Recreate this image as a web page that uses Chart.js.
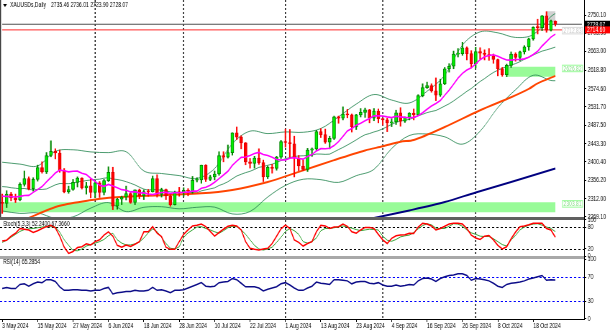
<!DOCTYPE html>
<html>
<head>
<meta charset="utf-8">
<script src="https://cdn.jsdelivr.net/npm/chart.js@4.4.1/dist/chart.umd.min.js"></script>
<style>
  html, body { margin: 0; padding: 0; background: #fff; overflow: hidden; }
  #myChart { display: block; }
</style>
</head>
<body>
<canvas id="myChart" width="848" height="332" style="width:610px;height:332px"></canvas>
<script>
// XAUUSDs daily, 3 May - 25 Oct 2024
const dates = [
  "2024.05.03","2024.05.06","2024.05.07","2024.05.08","2024.05.09","2024.05.10","2024.05.13","2024.05.14","2024.05.15","2024.05.16",
  "2024.05.17","2024.05.20","2024.05.21","2024.05.22","2024.05.23","2024.05.24","2024.05.27","2024.05.28","2024.05.29","2024.05.30",
  "2024.05.31","2024.06.03","2024.06.04","2024.06.05","2024.06.06","2024.06.07","2024.06.10","2024.06.11","2024.06.12","2024.06.13",
  "2024.06.14","2024.06.17","2024.06.18","2024.06.19","2024.06.20","2024.06.21","2024.06.24","2024.06.25","2024.06.26","2024.06.27",
  "2024.06.28","2024.07.01","2024.07.02","2024.07.03","2024.07.04","2024.07.05","2024.07.08","2024.07.09","2024.07.10","2024.07.11",
  "2024.07.12","2024.07.15","2024.07.16","2024.07.17","2024.07.18","2024.07.19","2024.07.22","2024.07.23","2024.07.24","2024.07.25",
  "2024.07.26","2024.07.29","2024.07.30","2024.07.31","2024.08.01","2024.08.02","2024.08.05","2024.08.06","2024.08.07","2024.08.08",
  "2024.08.09","2024.08.12","2024.08.13","2024.08.14","2024.08.15","2024.08.16","2024.08.19","2024.08.20","2024.08.21","2024.08.22",
  "2024.08.23","2024.08.26","2024.08.27","2024.08.28","2024.08.29","2024.08.30","2024.09.02","2024.09.03","2024.09.04","2024.09.05",
  "2024.09.06","2024.09.09","2024.09.10","2024.09.11","2024.09.12","2024.09.13","2024.09.16","2024.09.17","2024.09.18","2024.09.19",
  "2024.09.20","2024.09.23","2024.09.24","2024.09.25","2024.09.26","2024.09.27","2024.09.30","2024.10.01","2024.10.02","2024.10.03",
  "2024.10.04","2024.10.07","2024.10.08","2024.10.09","2024.10.10","2024.10.11","2024.10.14","2024.10.15","2024.10.16","2024.10.17",
  "2024.10.18","2024.10.21","2024.10.22","2024.10.23","2024.10.24","2024.10.25"
];
// empty bars on the right (chart shift)
const futureSlots = ["2024.10.28","2024.10.29","2024.10.30","2024.10.31","2024.11.01","2024.11.04"];
const tickLabels = ["3 May 2024","15 May 2024","27 May 2024","6 Jun 2024","18 Jun 2024","28 Jun 2024","10 Jul 2024","22 Jul 2024",
  "1 Aug 2024","13 Aug 2024","23 Aug 2024","4 Sep 2024","16 Sep 2024","26 Sep 2024","8 Oct 2024","18 Oct 2024"];
const tickEvery = 8;
const monthStarts = ["2024.06.03","2024.07.01","2024.08.01","2024.09.02","2024.10.01"];

const opens = [
  2303,2301,2323,2314,2309,2346,2360,2336,2358,2386,
  2376,2415,2425,2421,2379,2329,2334,2351,2361,2338,
  2343,2327,2350,2327,2355,2375,2294,2311,2316,2324,
  2303,2333,2319,2329,2328,2360,2322,2334,2319,2298,
  2327,2326,2332,2330,2356,2357,2392,2358,2364,2371,
  2415,2411,2422,2469,2459,2445,2400,2396,2409,2398,
  2364,2387,2384,2411,2448,2446,2443,2409,2390,2382,
  2428,2431,2472,2465,2447,2456,2507,2504,2514,2512,
  2484,2512,2518,2524,2504,2521,2503,2500,2493,2495,
  2517,2497,2506,2516,2512,2558,2577,2582,2569,2559,
  2586,2622,2628,2657,2658,2672,2658,2634,2663,2659,
  2656,2653,2644,2622,2608,2630,2657,2649,2662,2674,
  2693,2721,2720,2748,2714,2735.46
];
const highs = [
  2323,2331,2327,2323,2350,2378,2364,2362,2392,2400,
  2422,2450,2431,2428,2384,2342,2358,2364,2362,2351,
  2359,2354,2353,2358,2388,2387,2313,2318,2342,2327,
  2333,2335,2333,2334,2366,2369,2337,2335,2322,2330,
  2339,2338,2336,2365,2362,2392,2393,2368,2378,2424,
  2424,2440,2469,2483,2462,2446,2408,2413,2431,2404,
  2390,2394,2413,2451,2478,2477,2461,2415,2405,2432,
  2433,2475,2479,2478,2461,2509,2509,2531,2525,2514,
  2513,2527,2528,2525,2527,2526,2504,2504,2503,2523,
  2529,2507,2517,2526,2560,2586,2590,2586,2600,2597,
  2625,2634,2664,2670,2685,2674,2665,2673,2672,2667,
  2670,2657,2645,2625,2633,2662,2660,2664,2677,2695,
  2722,2740,2749,2758,2738,2736.01
];
const lows = [
  2277,2291,2307,2303,2307,2342,2333,2330,2354,2373,
  2372,2412,2407,2375,2326,2325,2332,2340,2335,2323,
  2314,2315,2315,2321,2353,2286,2287,2298,2309,2301,
  2298,2312,2310,2318,2328,2316,2316,2310,2294,2297,
  2318,2318,2319,2325,2352,2349,2353,2355,2357,2368,
  2400,2409,2416,2453,2431,2393,2385,2385,2394,2353,
  2360,2373,2380,2408,2435,2410,2364,2379,2379,2377,
  2413,2427,2458,2444,2431,2453,2492,2500,2505,2471,
  2477,2507,2506,2493,2498,2493,2488,2472,2484,2489,
  2485,2494,2500,2500,2510,2555,2575,2566,2546,2556,
  2584,2614,2622,2650,2654,2643,2624,2624,2645,2643,
  2642,2635,2605,2604,2603,2625,2640,2641,2657,2666,
  2690,2705,2713,2709,2712,2723.90
];
const closes = [
  2301,2323,2314,2309,2346,2360,2336,2358,2386,2376,
  2415,2425,2421,2379,2329,2334,2351,2361,2338,2343,
  2327,2350,2327,2355,2375,2294,2311,2316,2324,2303,
  2333,2319,2329,2328,2360,2322,2334,2319,2298,2327,
  2326,2332,2330,2356,2357,2392,2358,2364,2371,2415,
  2411,2422,2469,2459,2445,2400,2396,2409,2398,2364,
  2387,2384,2411,2448,2446,2443,2409,2390,2382,2428,
  2431,2472,2465,2447,2456,2507,2504,2514,2512,2484,
  2512,2518,2524,2504,2521,2503,2500,2493,2495,2517,
  2497,2506,2516,2512,2558,2577,2582,2569,2559,2586,
  2622,2628,2657,2658,2672,2658,2634,2663,2659,2656,
  2653,2644,2622,2608,2630,2657,2649,2662,2674,2693,
  2721,2720,2748,2714,2736,2728.07
];

// magenta average, read per bar
const maFast = [
  2318.0,2317.6,2316.8,2316.1,2317.5,2319.8,2319.9,2327.1,2333.7,2340.9,
  2352.3,2362.5,2373.2,2380.2,2378.5,2375.9,2377.4,2377.7,2372.9,2369.6,
  2360.8,2353.3,2343.9,2341.5,2346.1,2342.1,2338.1,2333.6,2332.2,2328.2,
  2328.8,2325.7,2325.9,2323.2,2321.7,2324.5,2326.8,2327.1,2324.5,2326.9,
  2326.2,2327.5,2327.6,2330.4,2330.0,2337.0,2339.4,2343.9,2351.2,2360.0,
  2368.5,2377.5,2391.4,2401.7,2410.6,2411.4,2415.2,2419.7,2422.4,2417.3,
  2414.9,2411.1,2405.3,2404.2,2404.3,2408.6,2409.9,2408.0,2406.4,2412.8,
  2417.2,2426.0,2431.4,2431.3,2432.3,2438.7,2448.2,2460.6,2473.6,2479.2,
  2487.3,2491.9,2497.8,2503.5,2510.0,2509.6,2509.2,2507.1,2505.4,2508.7,
  2507.2,2506.0,2505.2,2506.0,2509.7,2517.1,2525.3,2532.9,2539.3,2546.2,
  2558.7,2570.9,2585.0,2599.5,2610.9,2619.0,2624.2,2633.6,2643.6,2650.6,
  2653.7,2655.3,2651.8,2646.9,2642.7,2642.6,2644.1,2644.0,2645.5,2649.2,
  2656.0,2663.6,2676.2,2686.8,2697.4,2704.5
];
// bollinger middle, per bar
const bbMid = [
  2340.9,2340.1,2338.2,2337.0,2335.7,2336.5,2334.2,2332.9,2334.2,2334.0,
  2335.2,2340.1,2345.0,2348.2,2348.0,2347.9,2348.7,2352.4,2353.3,2355.3,
  2356.6,2357.9,2358.6,2360.9,2362.3,2359.0,2357.8,2355.7,2352.6,2348.9,
  2344.8,2339.5,2334.9,2332.4,2333.9,2333.3,2332.5,2330.4,2328.4,2327.6,
  2327.5,2326.6,2326.8,2326.8,2325.9,2330.8,2333.1,2335.5,2337.9,2343.5,
  2347.4,2352.5,2359.5,2366.1,2370.3,2374.2,2377.3,2381.8,2386.8,2388.7,
  2391.7,2394.3,2398.4,2403.0,2407.5,2410.0,2412.6,2413.9,2414.4,2415.1,
  2416.1,2418.6,2418.4,2417.8,2418.3,2423.7,2429.1,2434.3,2440.0,2446.0,
  2452.3,2459.0,2464.6,2467.4,2471.2,2474.2,2478.7,2483.9,2489.5,2494.0,
  2497.3,2499.0,2501.5,2504.8,2509.9,2513.4,2517.3,2520.0,2522.4,2527.5,
  2533.0,2538.5,2545.1,2552.8,2560.3,2568.1,2574.8,2583.3,2591.5,2598.4,
  2606.2,2613.1,2618.4,2623.2,2626.8,2630.8,2634.2,2638.8,2644.6,2649.9,
  2654.9,2659.5,2664.0,2666.9,2670.1,2673.6
];
// bollinger bands, read every 4th bar
const bbIdx = [0,4,8,12,16,20,24,28,32,36,40,44,48,52,56,60,64,68,72,76,80,84,88,92,96,100,104,108,112,116,120,124,125];
const bbUpper = [2399.0,2394.5,2390.2,2424.8,2428.7,2423.6,2421.9,2424.0,2378.3,2372.1,2367.1,2360.3,2383.9,2443.3,2473.1,2467.3,
  2471.3,2470.4,2479.4,2507.3,2537.7,2560.4,2547.3,2540.3,2568.3,2606.4,2678.5,2709.9,2707.6,2696.6,2703.5,2746.5,2753.8];
const bbLower = [2282.9,2276.9,2278.2,2265.2,2268.7,2289.6,2302.7,2281.2,2291.5,2292.9,2287.9,2291.5,2291.9,2275.7,2281.5,2316.1,
  2343.7,2358.4,2357.4,2350.9,2366.9,2382.0,2431.7,2462.7,2466.3,2459.6,2442.1,2473.1,2529.2,2571.8,2606.3,2593.9,2593.4];
// orange and navy averages, read at a few bars
const maMidIdx = [5,13,21,25,45,52,60,67,75,82,86,90,93,100,108,115,119,121,125];
const maMid = [2262,2295,2310,2315,2325,2333,2352,2376,2404,2427,2437,2448,2452,2483,2523,2554,2574,2587,2605];
const maSlowIdx = [84,92,100,107,115,125];
const maSlow = [2266,2284,2304,2327,2352,2384];

const stochMain = [
  42,44,55,63,76,74,72,65,70,76,
  81,85,78,55,25,8,13,24,26,34,
  31,40,45,58,67,55,30,25,31,27,
  33,40,67,67,81,63,54,25,19,19,
  40,60,72,83,85,88,81,68,55,65,
  74,82,85,83,72,40,22,19,17,20,
  22,35,55,75,85,76,45,38,28,35,
  40,67,85,83,76,80,81,88,82,67,
  63,72,79,79,76,60,45,35,49,56,
  58,59,63,62,80,90,88,83,72,76,
  82,88,90,90,88,76,58,50,46,55,
  57,45,30,20,26,48,66,81,83,86,
  90,90,90,76,72,52.24
];
const stochSignal = [
  38,44,52,60,68,73,75,76,78,80,
  81,81,80,66,45,30,16,15,20,28,
  32,36,40,46,56,63,45,36,31,31,
  34,39,50,64,75,67,52,35,22,20,
  26,52,64,72,80,81,76,72,67,63,
  70,78,82,81,72,60,45,30,20,17,
  20,25,38,52,68,76,70,60,40,36,
  40,50,70,76,76,78,80,83,80,77,
  73,70,72,74,73,72,55,44,41,46,
  53,56,58,65,75,84,89,86,77,76,
  76,82,89,88,82,72,64,60,55,54,
  54,48,40,32,28,45,57,72,80,85,
  88,89,85,80,76,67.366
];
const rsi = [
  51,53,51,51,58,59,55,59,62,61,
  66,66,63,54,48,48,49,49,48,48,
  47,48,48,51,53,42,44,45,46,46,
  48,47,47,48,53,48,49,47,44,48,
  48,49,52,55,58,61,55,54,55,61,
  62,63,68,66,60,54,54,54,52,47,
  50,52,54,59,61,57,52,48,48,52,
  55,62,60,59,58,66,66,65,64,59,
  62,63,63,60,59,61,57,55,55,57,
  55,56,58,57,64,68,69,67,63,68,
  71,73,74,76,76,73,65,68,67,66,
  64,60,55,53,58,60,61,62,64,67,
  69,71,73,65,66,65.2854
];

const priceTicks = [2269.10,2312.00,2356.20,2400.40,2443.30,2487.50,2531.70,2574.60,2618.80,2663.00,2705.90,2750.10];
const stochTicks = [0,20,80,100];
const stochLevels = [20,80];
const rsiTicks = [0,30,70,100];
const rsiLevels = [30,70];

const bidPrice = 2728.07;
const redLevel = 2714.60;
const lineNote = 2712.83;
const zoneFrom = ["2024.05.03","2024.10.10"];
const zoneTo = ["2024.10.25","2024.10.25"];
const zoneTop = [2303.81,2626.82];
const zoneBottom = [2279.5,2602.9];
const boxFrom = "2024.10.23", boxTo = "2024.10.25", boxTop = 2759, boxBottom = 2732;

// the screenshot is squeezed sideways, so draw wide and let css squeeze it
const K = 848 / 610;
const FONT = '7px "Liberation Sans", Arial, sans-serif';

Chart.defaults.font.family = '"Liberation Sans", Arial, sans-serif';
Chart.defaults.font.size = 7;
Chart.defaults.color = "#000";

const allLabels = dates.concat(futureSlots);
const isUp = closes.map((c, i) => c >= opens[i]);

function pts(idx, vals) {
    return idx.map((d, j) => ({x: dates[d], y: vals[j]}));
}
function flatLine(from, to, v) {
    return [{x: from, y: v}, {x: to, y: v}];
}

const clipPlugin = {
    id: "paneClip",
    beforeDatasetDraw(chart, args) {
        const ys = chart.scales[args.meta.yAxisID];
        const ctx = chart.ctx;
        ctx.save();
        ctx.beginPath();
        ctx.rect(chart.chartArea.left, ys.top, chart.chartArea.right - chart.chartArea.left, ys.bottom - ys.top);
        ctx.clip();
    },
    afterDatasetDraw(chart) {
        chart.ctx.restore();
    }
};

const decorPlugin = {
    id: "decor",
    beforeDatasetsDraw(chart) {
        const {ctx, chartArea, scales} = chart;
        ctx.save();
        // month separators
        ctx.lineWidth = 1.4;
        ctx.strokeStyle = "#000";
        ctx.setLineDash([2, 2]);
        monthStarts.forEach(d => {
            const px = scales.x.getPixelForValue(dates.indexOf(d));
            ctx.beginPath();
            ctx.moveTo(px, chartArea.top);
            ctx.lineTo(px, chartArea.bottom);
            ctx.stroke();
        });
        // oscillator levels
        ctx.lineWidth = 1;
        ctx.setLineDash([3, 3]);
        stochLevels.forEach(v => {
            const py = Math.round(scales.ys.getPixelForValue(v)) + 0.5;
            ctx.beginPath(); ctx.moveTo(chartArea.left, py); ctx.lineTo(chartArea.right, py); ctx.stroke();
        });
        ctx.strokeStyle = "#0000ff";
        rsiLevels.forEach(v => {
            const py = Math.round(scales.yr.getPixelForValue(v)) + 0.5;
            ctx.beginPath(); ctx.moveTo(chartArea.left, py); ctx.lineTo(chartArea.right, py); ctx.stroke();
        });
        ctx.restore();
    },
    afterDatasetsDraw(chart) {
        const {ctx, chartArea, scales} = chart;
        ctx.save();
        // pane separators
        ctx.fillStyle = "#606060";
        ctx.fillRect(0, scales.y.bottom - 2, chartArea.right, 3);
        ctx.fillStyle = "#a8a8a8";
        ctx.fillRect(0, scales.ys.bottom - 1.5, chartArea.right, 3);
        // left frame
        ctx.fillStyle = "#303030";
        ctx.fillRect(0, 0, 1.4, scales.y.bottom - 2);
        ctx.restore();
    },
    afterDraw(chart) {
        const {ctx, scales} = chart;
        const y = scales.y;
        const last = closes.length - 1;
        ctx.save();
        ctx.font = FONT;
        ctx.textBaseline = "middle";
        ctx.textAlign = "left";

        // header
        ctx.fillStyle = "#000";
        ctx.beginPath();
        ctx.moveTo(3 * K, 4); ctx.lineTo(7 * K, 4); ctx.lineTo(5 * K, 7); ctx.closePath(); ctx.fill();
        ctx.fillText("XAUUSDs,Daily", 10 * K, 5.5);
        ctx.fillText([opens, highs, lows, closes].map(a => a[last].toFixed(2)).join(" "), 51 * K, 5.5);

        // indicator captions
        ctx.fillText("Stoch(5,3,3) " + stochMain[last].toFixed(4) + " " + stochSignal[last].toFixed(4), 3 * K, scales.ys.top + 5);
        ctx.fillText("RSI(14) " + rsi[last].toFixed(4), 3 * K, scales.yr.top + 5);

        // zone labels
        const bx = 562 * K, bw = 21 * K;
        for (let i = 0; i < zoneTop.length; i++) {
            const py = y.getPixelForValue(zoneTop[i]) + 1.5;
            ctx.fillStyle = "#fff";
            ctx.fillRect(bx, py - 3.5, bw, 7);
            ctx.strokeStyle = "#98fb98";
            ctx.lineWidth = 1;
            ctx.strokeRect(bx + 0.5, py - 3, bw - 1, 6.5);
            ctx.fillStyle = "#86e086";
            ctx.fillText(zoneTop[i].toFixed(2), bx + 2, py + 0.5);
        }
        // faint note on the red level
        {
            const py = y.getPixelForValue(redLevel) + 0.5;
            ctx.fillStyle = "#fff";
            ctx.fillRect(bx, py - 3, bw, 6.5);
            ctx.strokeStyle = "#d8d8d8";
            ctx.strokeRect(bx + 0.5, py - 3, bw - 1, 6.5);
            ctx.fillStyle = "#c8c8c8";
            ctx.fillText(lineNote.toFixed(2), bx + 2, py + 0.5);
        }

        // price tags on the axis
        const tx = y.left + 1;
        const tw = chart.width - tx;
        [[bidPrice, "#000"], [redLevel, "#ff0000"]].forEach(([p, bg]) => {
            const py = y.getPixelForValue(p);
            ctx.fillStyle = bg;
            ctx.fillRect(tx, py - 3.5, tw, 7);
            ctx.fillStyle = "#fff";
            ctx.fillText(p.toFixed(2), tx + 3, py + 0.5);
        });
        ctx.restore();
    }
};

let chart = new Chart(document.getElementById("myChart"), {
    type: "bar",
    data: {
        labels: allLabels,
        datasets: [
            {
                type: "line", label: "MA fast", data: maFast, yAxisID: "y",
                borderColor: "#ff00ff", borderWidth: 1.6, pointRadius: 0, order: 3
            },
            {
                type: "bar", label: "bodies", yAxisID: "y",
                data: opens.map((o, i) => [o, closes[i]]),
                backgroundColor: isUp.map(u => u ? "#00ee00" : "#ff0000"),
                borderColor: isUp.map(u => u ? "#008800" : "#e00000"),
                borderWidth: 1, borderSkipped: false, barThickness: 4.2, minBarLength: 1,
                grouped: false, order: 4
            },
            {
                type: "bar", label: "wicks", yAxisID: "y",
                data: lows.map((l, i) => [l, highs[i]]),
                backgroundColor: isUp.map(u => u ? "#008800" : "#ff0000"),
                borderWidth: 0, barThickness: 1.4, grouped: false, order: 5
            },
            {
                type: "line", label: "MA mid", data: pts(maMidIdx, maMid), yAxisID: "y",
                borderColor: "#ff4500", borderWidth: 2, pointRadius: 0, tension: 0.3, order: 8
            },
            {
                type: "line", label: "MA slow", data: pts(maSlowIdx, maSlow), yAxisID: "y",
                borderColor: "#000080", borderWidth: 2, pointRadius: 0, tension: 0.3, order: 8
            },
            {
                type: "line", label: "BB upper", data: pts(bbIdx, bbUpper), yAxisID: "y",
                borderColor: "rgba(46,139,87,0.85)", borderWidth: 1, pointRadius: 0, tension: 0.35, order: 10
            },
            {
                type: "line", label: "BB mid", data: bbMid, yAxisID: "y",
                borderColor: "rgba(46,139,87,0.85)", borderWidth: 1, pointRadius: 0, order: 10
            },
            {
                type: "line", label: "BB lower", data: pts(bbIdx, bbLower), yAxisID: "y",
                borderColor: "rgba(46,139,87,0.85)", borderWidth: 1, pointRadius: 0, tension: 0.35, order: 10
            },
            {
                type: "line", label: "bid", data: flatLine(allLabels[0], allLabels[allLabels.length - 1], bidPrice), yAxisID: "y",
                borderColor: "#505050", borderWidth: 1.2, pointRadius: 0, order: 9
            },
            {
                type: "line", label: "level", data: flatLine(allLabels[0], allLabels[allLabels.length - 1], redLevel), yAxisID: "y",
                borderColor: "#ff2a2a", borderWidth: 1, pointRadius: 0, order: 9
            },
            {
                type: "line", label: "zone 1", data: flatLine(zoneFrom[0], zoneTo[0], zoneTop[0]), yAxisID: "y",
                borderWidth: 0, pointRadius: 0, backgroundColor: "#98fb98", fill: {value: zoneBottom[0]}, order: 20
            },
            {
                type: "line", label: "zone 2", data: flatLine(zoneFrom[1], zoneTo[1], zoneTop[1]), yAxisID: "y",
                borderWidth: 0, pointRadius: 0, backgroundColor: "#98fb98", fill: {value: zoneBottom[1]}, order: 20
            },
            {
                type: "line", label: "box", data: flatLine(boxFrom, boxTo, boxTop), yAxisID: "y",
                borderWidth: 0, pointRadius: 0, backgroundColor: "rgba(190,190,190,0.7)", fill: {value: boxBottom}, order: 19
            },
            {
                type: "line", label: "Stoch main", data: stochMain, yAxisID: "ys",
                borderColor: "#ff0000", borderWidth: 1.5, pointRadius: 0, order: 1
            },
            {
                type: "line", label: "Stoch signal", data: stochSignal, yAxisID: "ys",
                borderColor: "#35a535", borderWidth: 1, pointRadius: 0, order: 2
            },
            {
                type: "line", label: "RSI", data: rsi, yAxisID: "yr",
                borderColor: "#0c0c88", borderWidth: 1.5, pointRadius: 0, order: 1
            }
        ]
    },
    options: {
        responsive: false,
        devicePixelRatio: 1,
        animation: false,
        layout: {padding: 0},
        plugins: {legend: {display: false}, tooltip: {enabled: false}},
        scales: {
            x: {
                type: "category",
                offset: true,
                grid: {offset: false, drawOnChartArea: false, tickLength: 3, color: "#000"},
                border: {color: "#000"},
                ticks: {
                    autoSkip: false, maxRotation: 0, minRotation: 0, align: "start", padding: 0,
                    callback: (v, i) => (i % tickEvery === 0 && tickLabels[i / tickEvery]) ? tickLabels[i / tickEvery] : null
                },
                afterFit: s => { s.height = 13; s.paddingLeft = 0; s.paddingRight = 0; }
            },
            y: {
                type: "linear", position: "right", stack: "panes", stackWeight: 219,
                min: 2263.6, max: 2785.9,
                afterBuildTicks: s => { s.ticks = priceTicks.map(v => ({value: v})); },
                ticks: {autoSkip: false, padding: 2, callback: v => v.toFixed(2)},
                grid: {drawOnChartArea: false, tickLength: 3, color: "#000"},
                border: {color: "#000"},
                afterFit: s => { s.width = 36; s.paddingTop = 0; s.paddingBottom = 0; }
            },
            ys: {
                type: "linear", position: "right", stack: "panes", stackWeight: 38.5,
                min: -3.3, max: 101.9,
                afterBuildTicks: s => { s.ticks = stochTicks.map(v => ({value: v})); },
                ticks: {autoSkip: false, padding: 2, callback: v => String(v)},
                grid: {drawOnChartArea: false, tickLength: 3, color: "#000"},
                border: {color: "#000"},
                afterFit: s => { s.width = 36; s.paddingTop = 0; s.paddingBottom = 0; }
            },
            yr: {
                type: "linear", position: "right", stack: "panes", stackWeight: 61.5,
                min: -0.3, max: 103.4,
                afterBuildTicks: s => { s.ticks = rsiTicks.map(v => ({value: v})); },
                ticks: {autoSkip: false, padding: 2, callback: v => String(v)},
                grid: {drawOnChartArea: false, tickLength: 3, color: "#000"},
                border: {color: "#000"},
                afterFit: s => { s.width = 36; s.paddingTop = 0; s.paddingBottom = 0; }
            }
        }
    },
    plugins: [clipPlugin, decorPlugin]
});
</script>
</body>
</html>
